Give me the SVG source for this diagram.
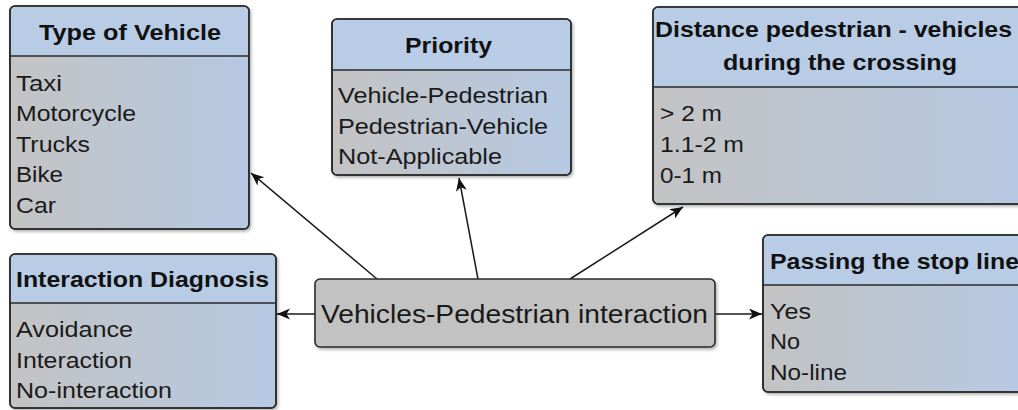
<svg xmlns="http://www.w3.org/2000/svg" width="1018" height="410" viewBox="0 0 1018 410">
<style>
.box{stroke:#2b2b2b;stroke-width:1.6;fill:url(#body)}
.hdr{fill:#b9cce5;stroke:none}
.div{stroke:#2b2b2b;stroke-width:1.6}
.ttl{font-family:"Liberation Sans",Arial,sans-serif;font-weight:bold;font-size:22px;fill:#111}
.itm{font-family:"Liberation Sans",Arial,sans-serif;font-size:22px;fill:#1a1a1a}
.ctr{font-family:"Liberation Sans",Arial,sans-serif;font-size:26px;fill:#1a1a1a}
.con{stroke:#1a1a1a;stroke-width:1.5;fill:none;marker-end:url(#arr)}
</style>
<defs>
<linearGradient id="body" x1="0" y1="0" x2="1" y2="0">
<stop offset="0" stop-color="#c3c3c3"/>
<stop offset="1" stop-color="#b6c9e3"/>
</linearGradient>
<filter id="sh" x="-5%" y="-5%" width="115%" height="115%">
<feDropShadow dx="1.5" dy="2" stdDeviation="1.5" flood-color="#000" flood-opacity="0.3"/>
</filter>
<marker id="arr" markerWidth="14" markerHeight="12" refX="13" refY="5.5" orient="auto" markerUnits="userSpaceOnUse">
<path d="M0,0 L13,5.5 L0,11 L3.5,5.5 Z" fill="#111"/>
</marker>
</defs>
<rect width="1018" height="410" fill="#ffffff"/>

<g id="connectors">
<line class="con" x1="377" y1="279" x2="251" y2="173"/>
<line class="con" x1="478" y1="279" x2="459" y2="178"/>
<line class="con" x1="570" y1="279" x2="683" y2="207"/>
<line class="con" x1="315" y1="314" x2="277" y2="314"/>
<line class="con" x1="715" y1="314" x2="762" y2="314"/>
</g>

<g id="type-of-vehicle">
<rect class="box" x="10" y="6" width="239" height="223" rx="5" filter="url(#sh)"/>
<path class="hdr" d="M10.8,56 V11 A4.2,4.2 0 0 1 15,6.8 H244 A4.2,4.2 0 0 1 248.2,11 V56 Z"/>
<line class="div" x1="10" y1="56" x2="249" y2="56"/>
<rect x="10" y="6" width="239" height="223" rx="5" fill="none" stroke="#2b2b2b" stroke-width="1.6"/>
<text class="ttl" x="39" y="40" textLength="182" lengthAdjust="spacingAndGlyphs">Type of Vehicle</text>
<text class="itm" x="16" y="91" textLength="46" lengthAdjust="spacingAndGlyphs">Taxi</text>
<text class="itm" x="16" y="121" textLength="120" lengthAdjust="spacingAndGlyphs">Motorcycle</text>
<text class="itm" x="16" y="152" textLength="74" lengthAdjust="spacingAndGlyphs">Trucks</text>
<text class="itm" x="16" y="182" textLength="47" lengthAdjust="spacingAndGlyphs">Bike</text>
<text class="itm" x="16" y="213" textLength="40" lengthAdjust="spacingAndGlyphs">Car</text>
</g>

<g id="priority">
<rect class="box" x="332" y="19" width="239" height="156" rx="5" filter="url(#sh)"/>
<path class="hdr" d="M332.8,70 V24 A4.2,4.2 0 0 1 337,19.8 H566 A4.2,4.2 0 0 1 570.2,24 V70 Z"/>
<line class="div" x1="332" y1="70" x2="571" y2="70"/>
<rect x="332" y="19" width="239" height="156" rx="5" fill="none" stroke="#2b2b2b" stroke-width="1.6"/>
<text class="ttl" x="405" y="53" textLength="87" lengthAdjust="spacingAndGlyphs">Priority</text>
<text class="itm" x="338" y="103" textLength="210" lengthAdjust="spacingAndGlyphs">Vehicle-Pedestrian</text>
<text class="itm" x="338" y="134" textLength="210" lengthAdjust="spacingAndGlyphs">Pedestrian-Vehicle</text>
<text class="itm" x="338" y="164" textLength="164" lengthAdjust="spacingAndGlyphs">Not-Applicable</text>
</g>

<g id="distance">
<rect class="box" x="653" y="7" width="374" height="197" rx="5" filter="url(#sh)"/>
<path class="hdr" d="M653.8,87 V12 A4.2,4.2 0 0 1 658,7.8 H1022 A4.2,4.2 0 0 1 1026.2,12 V87 Z"/>
<line class="div" x1="653" y1="87" x2="1027" y2="87"/>
<rect x="653" y="7" width="374" height="197" rx="5" fill="none" stroke="#2b2b2b" stroke-width="1.6"/>
<text class="ttl" x="655" y="37" textLength="357" lengthAdjust="spacingAndGlyphs">Distance pedestrian - vehicles</text>
<text class="ttl" x="723" y="70" textLength="234" lengthAdjust="spacingAndGlyphs">during the crossing</text>
<text class="itm" x="660" y="121" textLength="62" lengthAdjust="spacingAndGlyphs">&gt; 2 m</text>
<text class="itm" x="660" y="152" textLength="84" lengthAdjust="spacingAndGlyphs">1.1-2 m</text>
<text class="itm" x="660" y="183" textLength="62" lengthAdjust="spacingAndGlyphs">0-1 m</text>
</g>

<g id="interaction-diagnosis">
<rect class="box" x="10" y="254" width="266" height="154" rx="5" filter="url(#sh)"/>
<path class="hdr" d="M10.8,303 V259 A4.2,4.2 0 0 1 15,254.8 H271 A4.2,4.2 0 0 1 275.2,259 V303 Z"/>
<line class="div" x1="10" y1="303" x2="276" y2="303"/>
<rect x="10" y="254" width="266" height="154" rx="5" fill="none" stroke="#2b2b2b" stroke-width="1.6"/>
<text class="ttl" x="16" y="287" textLength="253" lengthAdjust="spacingAndGlyphs">Interaction Diagnosis</text>
<text class="itm" x="16" y="337" textLength="117" lengthAdjust="spacingAndGlyphs">Avoidance</text>
<text class="itm" x="16" y="368" textLength="116" lengthAdjust="spacingAndGlyphs">Interaction</text>
<text class="itm" x="16" y="398" textLength="156" lengthAdjust="spacingAndGlyphs">No-interaction</text>
</g>

<g id="passing-stop-line">
<rect class="box" x="763" y="235" width="264" height="157" rx="5" filter="url(#sh)"/>
<path class="hdr" d="M763.8,285 V240 A4.2,4.2 0 0 1 768,235.8 H1022 A4.2,4.2 0 0 1 1026.2,240 V285 Z"/>
<line class="div" x1="763" y1="285" x2="1027" y2="285"/>
<rect x="763" y="235" width="264" height="157" rx="5" fill="none" stroke="#2b2b2b" stroke-width="1.6"/>
<text class="ttl" x="770" y="269" textLength="249" lengthAdjust="spacingAndGlyphs">Passing the stop line</text>
<text class="itm" x="770" y="319" textLength="41" lengthAdjust="spacingAndGlyphs">Yes</text>
<text class="itm" x="770" y="349" textLength="30" lengthAdjust="spacingAndGlyphs">No</text>
<text class="itm" x="770" y="380" textLength="77" lengthAdjust="spacingAndGlyphs">No-line</text>
</g>

<g id="central">
<rect x="315" y="279" width="400" height="68" rx="5" fill="#c2c2c2" stroke="#2b2b2b" stroke-width="1.6" filter="url(#sh)"/>
<text class="ctr" x="321" y="323" textLength="387" lengthAdjust="spacingAndGlyphs">Vehicles-Pedestrian interaction</text>
</g>
</svg>
